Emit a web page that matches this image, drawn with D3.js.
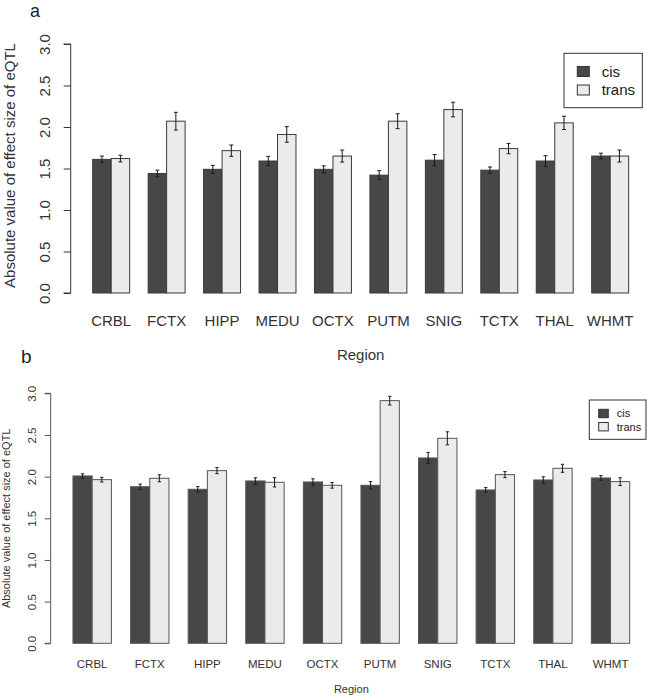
<!DOCTYPE html>
<html>
<head>
<meta charset="utf-8">
<script src="https://cdn.jsdelivr.net/npm/d3@7"></script>
<style>
  html, body { margin: 0; padding: 0; background: #fff; }
  svg { display: block; font-family: "Liberation Sans", Arial, sans-serif; }
</style>
</head>
<body>
<svg id="chart" width="647" height="697"></svg>
<script>
// ---------- data ----------
const regions = ["CRBL", "FCTX", "HIPP", "MEDU", "OCTX", "PUTM", "SNIG", "TCTX", "THAL", "WHMT"];
const seriesNames = ["cis", "trans"];
const yTicks = [0, 0.5, 1.0, 1.5, 2.0, 2.5, 3.0];

// panel a
const cisA      = [1.61, 1.44, 1.49, 1.59, 1.49, 1.42, 1.60, 1.48, 1.59, 1.65];
const cisErrA   = [0.04, 0.04, 0.048, 0.056, 0.042, 0.054, 0.068, 0.038, 0.064, 0.034];
const transA    = [1.62, 2.07, 1.715, 1.91, 1.65, 2.07, 2.21, 1.74, 2.05, 1.65];
const transErrA = [0.04, 0.107, 0.068, 0.094, 0.072, 0.09, 0.088, 0.062, 0.08, 0.072];

// panel b
const cisB      = [2.008, 1.879, 1.848, 1.948, 1.936, 1.896, 2.224, 1.84, 1.96, 1.984];
const cisErrB   = [0.026, 0.032, 0.032, 0.038, 0.038, 0.044, 0.066, 0.028, 0.038, 0.028];
const transB    = [1.964, 1.98, 2.072, 1.932, 1.896, 2.912, 2.46, 2.024, 2.10, 1.94];
const transErrB = [0.028, 0.042, 0.036, 0.056, 0.034, 0.052, 0.078, 0.036, 0.048, 0.046];

const fills = ["#474747", "#ebebeb"];

const svg = d3.select("#chart");

function drawPanel(cfg) {
  const g = svg.append("g");
  // x in R barplot units: bar j of group i starts at 1 + 3i + j, width 1
  const x = d3.scaleLinear().domain([-0.16, 31.16]).range([cfg.left, cfg.right]);
  const y = d3.scaleLinear().domain([0, 3]).range([cfg.y0, cfg.y3]);

  const data = [];
  regions.forEach((r, i) => {
    data.push({ r, i, s: 0, v: cfg.cis[i], e: cfg.cisErr[i] });
    data.push({ r, i, s: 1, v: cfg.trans[i], e: cfg.transErr[i] });
  });

  // bars
  g.selectAll("rect.bar").data(data).enter().append("rect")
    .attr("class", "bar")
    .attr("x", d => x(1 + 3 * d.i + d.s))
    .attr("width", d => x(2 + 3 * d.i + d.s) - x(1 + 3 * d.i + d.s))
    .attr("y", d => y(d.v))
    .attr("height", d => y(0) - y(d.v))
    .attr("fill", d => fills[d.s])
    .attr("stroke", cfg.barStroke)
    .attr("stroke-width", 1);

  // error bars
  const eb = g.selectAll("g.err").data(data).enter().append("g").attr("class", "err");
  const cx = d => x(1.5 + 3 * d.i + d.s);
  eb.append("line")
    .attr("x1", cx).attr("x2", cx)
    .attr("y1", d => y(d.v + d.e)).attr("y2", d => y(d.v - d.e))
    .attr("stroke", "#1a1a1a").attr("stroke-width", 1);
  [1, -1].forEach(sg => {
    eb.append("line")
      .attr("x1", d => cx(d) - cfg.cap).attr("x2", d => cx(d) + cfg.cap)
      .attr("y1", d => y(d.v + sg * d.e)).attr("y2", d => y(d.v + sg * d.e))
      .attr("stroke", "#1a1a1a").attr("stroke-width", 1);
  });

  // y axis
  const yAxis = d3.axisLeft(y).tickValues(yTicks).tickFormat(d3.format(".1f"))
    .tickSize(cfg.tickLen).tickPadding(0);
  const ax = g.append("g").attr("transform", `translate(${cfg.axisX},0)`).call(yAxis);
  ax.select(".domain").attr("stroke", cfg.axisColor)
    .attr("d", `M${-cfg.tickLen},${y(0)}H0V${y(3)}H${-cfg.tickLen}`);
  ax.selectAll(".tick line").attr("stroke", cfg.axisColor);
  ax.selectAll(".tick text")
    .attr("x", null).attr("dy", null)
    .attr("transform", `translate(${cfg.tickLabelX - cfg.axisX},0) rotate(-90)`)
    .attr("text-anchor", "middle")
    .attr("font-size", cfg.tickFont)
    .attr("font-family", "Liberation Sans, Arial, sans-serif")
    .attr("fill", "#333");

  // category labels
  g.selectAll("text.cat").data(regions).enter().append("text")
    .attr("class", "cat")
    .attr("x", (d, i) => x(2 + 3 * i))
    .attr("y", cfg.catY)
    .attr("text-anchor", "middle")
    .attr("font-size", cfg.catFont)
    .attr("fill", "#333")
    .text(d => d);

  // x title
  g.append("text")
    .attr("x", (x(-0.16) + x(31.16)) / 2)
    .attr("y", cfg.xTitleY)
    .attr("text-anchor", "middle")
    .attr("font-size", cfg.xTitleFont)
    .attr("fill", "#333")
    .text("Region");

  // y title
  g.append("text")
    .attr("transform", `translate(${cfg.yTitleX},${(y(0) + y(3)) / 2 - cfg.yTitleShift}) rotate(-90)`)
    .attr("text-anchor", "middle")
    .attr("font-size", cfg.yTitleFont)
    .attr("fill", "#333")
    .text("Absolute value of effect size of eQTL");

  // panel letter
  g.append("text")
    .attr("x", cfg.letterX).attr("y", cfg.letterY)
    .attr("font-size", cfg.letterFont)
    .attr("fill", "#222")
    .text(cfg.letter);

  // legend
  const L = cfg.legend;
  g.append("rect")
    .attr("x", L.x).attr("y", L.y).attr("width", L.w).attr("height", L.h)
    .attr("fill", "#fff").attr("stroke", "#333").attr("stroke-width", 1);
  seriesNames.forEach((s, k) => {
    g.append("rect")
      .attr("x", L.sqX).attr("y", L.rowY[k] - L.sqH / 2)
      .attr("width", L.sqW).attr("height", L.sqH)
      .attr("fill", fills[k]).attr("stroke", "#333").attr("stroke-width", 1);
    g.append("text")
      .attr("x", L.textX).attr("y", L.rowY[k])
      .attr("dy", "0.35em")
      .attr("font-size", L.font)
      .attr("fill", "#222")
      .text(s);
  });
}

drawPanel({
  letter: "a", letterX: 30, letterY: 17, letterFont: 18,
  left: 71.26, right: 650.1, y0: 293, y3: 44,
  cis: cisA, cisErr: cisErrA, trans: transA, transErr: transErrA,
  barStroke: "#3a3a3a", cap: 2,
  axisX: 70.7, tickLen: 7, tickLabelX: 50, tickFont: 15, axisColor: "#333",
  catY: 325.5, catFont: 15,
  xTitleY: 360, xTitleFont: 15,
  yTitleX: 15, yTitleShift: 3, yTitleFont: 15,
  legend: { x: 564, y: 53.3, w: 78.3, h: 54.4, sqX: 577.3, sqW: 12, sqH: 10,
            rowY: [71.5, 90], textX: 601.7, font: 15 }
});

drawPanel({
  letter: "b", letterX: 21, letterY: 363, letterFont: 19,
  left: 50.7, right: 652, y0: 643.3, y3: 393.3,
  cis: cisB, cisErr: cisErrB, trans: transB, transErr: transErrB,
  barStroke: "#555", cap: 1.7,
  axisX: 50.7, tickLen: 6, tickLabelX: 35.5, tickFont: 11.5, axisColor: "#555",
  catY: 668.3, catFont: 11.5,
  xTitleY: 693, xTitleFont: 11,
  yTitleX: 10, yTitleShift: 0, yTitleFont: 11,
  legend: { x: 589.3, y: 400, w: 56.7, h: 39.3, sqX: 598.7, sqW: 9.6, sqH: 8.4,
            rowY: [413.5, 426.7], textX: 616.7, font: 11 }
});
</script>
</body>
</html>
